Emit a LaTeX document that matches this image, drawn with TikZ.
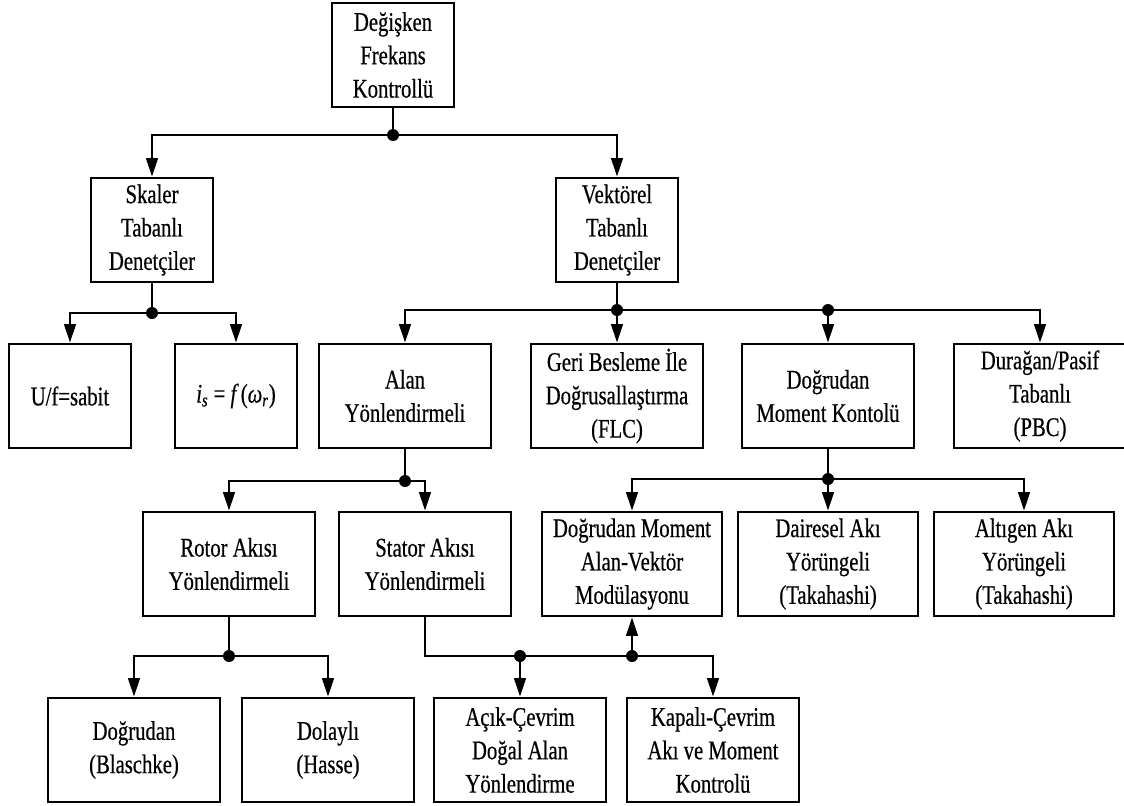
\documentclass[tikz,border=0pt]{standalone}
\usepackage{fontspec}
\setmainfont[FakeStretch=0.77,FakeBold=0.5]{Liberation Serif}
\usetikzlibrary{arrows.meta}

\begin{document}
\begin{tikzpicture}[x=0.02cm,y=-0.02cm,line width=1.5pt,
  font=\fontsize{15.3}{19}\selectfont,
  box/.style={draw,minimum width=3.44cm,minimum height=2.08cm,align=center,inner sep=1pt},
  narrowbox/.style={box,minimum width=2.44cm},
  widebox/.style={box,minimum width=3.6cm},
  arr/.style={-{Triangle[length=3.7mm,width=2.3mm]}}]
  \useasboundingbox (0,0) rectangle (1124,805);

  % boxes
  \node[narrowbox] (dfk) at (393,55) {Değişken\\Frekans\\Kontrollü};
  \node[narrowbox] (skaler) at (152,230) {Skaler\\Tabanlı\\Denetçiler};
  \node[narrowbox] (vektor) at (617,230) {Vektörel\\Tabanlı\\Denetçiler};
  \node[narrowbox] (usabit) at (70,396) {U/f=sabit};
  \node[narrowbox] (isf) at (236,396) {{\itshape i}\textsubscript{\itshape s} = {\itshape f}\,({\itshape ω}\textsubscript{\itshape r})};
  \node[box] (alan) at (405,396) {Alan\\Yönlendirmeli};
  \node[box] (geri) at (617,396) {Geri Besleme İle\\Doğrusallaştırma\\(FLC)};
  \node[box] (dmk) at (828,396) {Doğrudan\\Moment Kontolü};
  \node[box] (pbc) at (1040,396) {Durağan/Pasif\\Tabanlı\\(PBC)};
  \node[box] (rotor) at (229,564) {Rotor Akısı\\Yönlendirmeli};
  \node[box] (stator) at (425,564) {Stator Akısı\\Yönlendirmeli};
  \node[widebox] (dmavm) at (632,564) {Doğrudan Moment\\Alan-Vektör\\Modülasyonu};
  \node[widebox] (dairesel) at (828,564) {Dairesel Akı\\Yörüngeli\\(Takahashi)};
  \node[widebox] (altigen) at (1024,564) {Altıgen Akı\\Yörüngeli\\(Takahashi)};
  \node[box] (blaschke) at (134,750) {Doğrudan\\(Blaschke)};
  \node[box] (hasse) at (328,750) {Dolaylı\\(Hasse)};
  \node[box] (acik) at (520,750) {Açık-Çevrim\\Doğal Alan\\Yönlendirme};
  \node[box] (kapali) at (713,750) {Kapalı-Çevrim\\Akı ve Moment\\Kontrolü};

  % junctions
  \coordinate (j1) at (393,135);
  \coordinate (j2) at (152,313);
  \coordinate (j3) at (617,310);
  \coordinate (j4) at (828,310);
  \coordinate (j5) at (405,481);
  \coordinate (j6) at (828,479);
  \coordinate (j7) at (229,656);
  \coordinate (j8) at (520,656);
  \coordinate (j9) at (632,656);

  \draw (dfk.south) -- (j1);
  \draw[arr] (j1) -| (skaler.north);
  \draw[arr] (j1) -| (vektor.north);

  \draw (skaler.south) -- (j2);
  \draw[arr] (j2) -| (usabit.north);
  \draw[arr] (j2) -| (isf.north);

  \draw (vektor.south) -- (j3);
  \draw[arr] (j3) -| (alan.north);
  \draw[arr] (j3) -- (geri.north);
  \draw (j3) -- (j4);
  \draw[arr] (j4) -- (dmk.north);
  \draw[arr] (j4) -| (pbc.north);

  \draw (alan.south) -- (j5);
  \draw[arr] (j5) -| (rotor.north);
  \draw[arr] (j5) -| (stator.north);

  \draw (dmk.south) -- (j6);
  \draw[arr] (j6) -| (dmavm.north);
  \draw[arr] (j6) -- (dairesel.north);
  \draw[arr] (j6) -| (altigen.north);

  \draw (rotor.south) -- (j7);
  \draw[arr] (j7) -| (blaschke.north);
  \draw[arr] (j7) -| (hasse.north);

  \draw (stator.south) |- (j8);
  \draw[arr] (j8) -- (acik.north);
  \draw (j8) -- (j9);
  \draw[arr] (j9) -- (dmavm.south);
  \draw[arr] (j9) -| (kapali.north);

  \foreach \j in {j1,j2,j3,j4,j5,j6,j7,j8,j9}
    \fill (\j) circle (1.2mm);
\end{tikzpicture}
\end{document}
